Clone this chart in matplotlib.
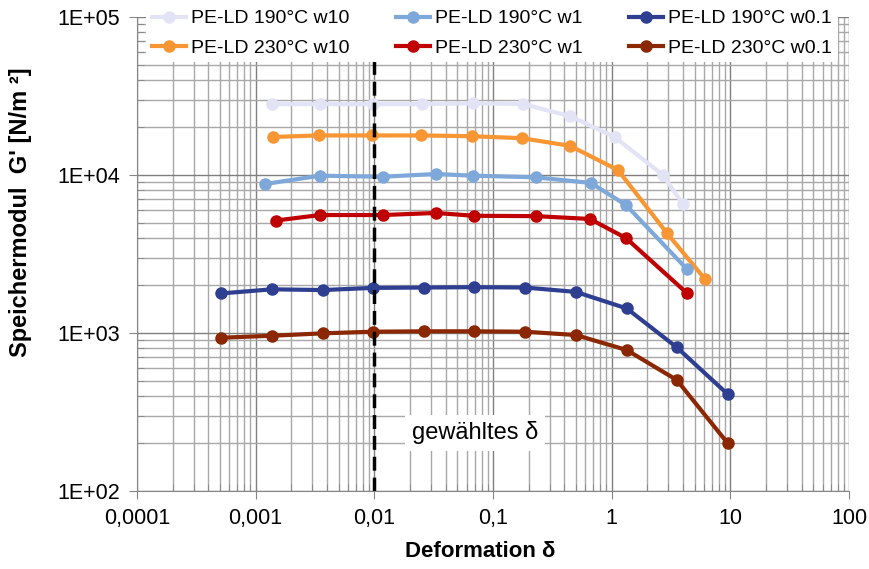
# Speichermodul G' vs Deformation, PE-LD at 190 and 230 °C

import matplotlib.pyplot as plt
from matplotlib.ticker import FixedLocator, FixedFormatter, LogLocator, NullFormatter

plt.rcParams['font.family'] = ['Liberation Sans', 'DejaVu Sans']

# Deformation (x) and storage modulus G' (y) per series
x_190_w10 = [0.00137, 0.00348, 0.00973, 0.0252, 0.0678, 0.179, 0.445, 1.06, 2.70, 3.98]
g_190_w10 = [28100, 28100, 28100, 28100, 28500, 28100, 23600, 17400, 10000, 6550]

x_230_w10 = [0.00139, 0.00341, 0.00955, 0.0247, 0.0664, 0.175, 0.445, 1.13, 2.92, 6.10]
g_230_w10 = [17400, 17800, 17800, 17800, 17600, 17100, 15300, 10750, 4290, 2200]

x_190_w1 = [0.00120, 0.00348, 0.0118, 0.0330, 0.0678, 0.230, 0.668, 1.32, 4.30]
g_190_w1 = [8770, 9900, 9750, 10150, 9900, 9670, 8900, 6460, 2540]

x_230_w1 = [0.00148, 0.00348, 0.0118, 0.0330, 0.069, 0.230, 0.655, 1.32, 4.30]
g_230_w1 = [5150, 5580, 5580, 5750, 5520, 5490, 5270, 3990, 1790]

x_w01 = [0.00051, 0.00137, 0.00369, 0.0097, 0.0262, 0.069, 0.186, 0.499, 1.34, 3.54, 9.53]
g_190_w01 = [1780, 1890, 1870, 1930, 1940, 1950, 1940, 1820, 1430, 811, 409]
g_230_w01 = [933, 961, 995, 1019, 1025, 1025, 1019, 971, 780, 504, 200]

x_ticks = [1e-4, 1e-3, 1e-2, 1e-1, 1, 10, 100]
x_ticklabels = ['0,0001', '0,001', '0,01', '0,1', '1', '10', '100']
y_ticks = [1e2, 1e3, 1e4, 1e5]
y_ticklabels = ['1E+02', '1E+03', '1E+04', '1E+05']

chosen_delta = 0.01

fig = plt.figure(figsize=(8.69, 5.69), dpi=100)
ax = fig.add_axes([137/869, 1 - 491/569, (849 - 137)/869, (491 - 17)/569])

lw = 3
ms = 8
ax.plot(x_190_w10, g_190_w10, '-o', c='#E3E3F6', lw=lw, ms=ms, label='PE-LD 190°C w10')
ax.plot(x_230_w10, g_230_w10, '-o', c='#F79633', lw=lw, ms=ms, label='PE-LD 230°C w10')
ax.plot(x_190_w1, g_190_w1, '-o', c='#7EA8D9', lw=lw, ms=ms, label='PE-LD 190°C w1')
ax.plot(x_230_w1, g_230_w1, '-o', c='#C00000', lw=lw, ms=ms, label='PE-LD 230°C w1')
ax.plot(x_w01, g_190_w01, '-o', c='#2E3F91', lw=lw, ms=ms, label='PE-LD 190°C w0.1')
ax.plot(x_w01, g_230_w01, '-o', c='#8B2703', lw=lw, ms=ms, label='PE-LD 230°C w0.1')

ax.axvline(chosen_delta, color='black', lw=2.5, ls=(0, (4, 2)), zorder=3)
ax.text(0.0705, 233, 'gewähltes δ', fontsize=17, ha='center', va='center', zorder=4,
        bbox=dict(facecolor='white', edgecolor='none', pad=5))

ax.set_xscale('log')
ax.set_yscale('log')
ax.set_xlim(1e-4, 100)
ax.set_ylim(100, 1e5)

ax.xaxis.set_major_locator(FixedLocator(x_ticks))
ax.xaxis.set_major_formatter(FixedFormatter(x_ticklabels))
ax.yaxis.set_major_locator(FixedLocator(y_ticks))
ax.yaxis.set_major_formatter(FixedFormatter(y_ticklabels))
ax.xaxis.set_minor_locator(LogLocator(base=10, subs=range(2, 10)))
ax.yaxis.set_minor_locator(LogLocator(base=10, subs=range(2, 10)))
ax.xaxis.set_minor_formatter(NullFormatter())
ax.yaxis.set_minor_formatter(NullFormatter())

ax.grid(which='major', color='#7f7f7f', lw=1)
ax.grid(which='minor', color='#a8a8a8', lw=1)
ax.set_axisbelow(True)

for s in ['top', 'right']:
    ax.spines[s].set_visible(False)
for s in ['left', 'bottom']:
    ax.spines[s].set_color('#868686')

ax.tick_params(which='major', direction='out', length=6, color='#868686', labelsize=15.5, pad=6)
ax.tick_params(which='minor', direction='in', length=5, color='#868686')

ax.set_xlabel('Deformation δ', fontsize=16, fontweight='bold')
ax.xaxis.set_label_coords((480 - 137)/712, -0.105)
ax.set_ylabel("Speichermodul  G' [N/m ²]", fontsize=17, fontweight='bold')
ax.yaxis.set_label_coords(-0.147, (491 - 212)/474)

leg = fig.legend(loc='upper left', bbox_to_anchor=(142/869, 1.0), ncol=3, fontsize=14,
                 frameon=True, facecolor='white', edgecolor='none', framealpha=1,
                 handlelength=1.75, handletextpad=0.25, columnspacing=2.4, labelspacing=0.6,
                 borderaxespad=0.2, borderpad=0.3)

plt.savefig('out.png', dpi=100)
